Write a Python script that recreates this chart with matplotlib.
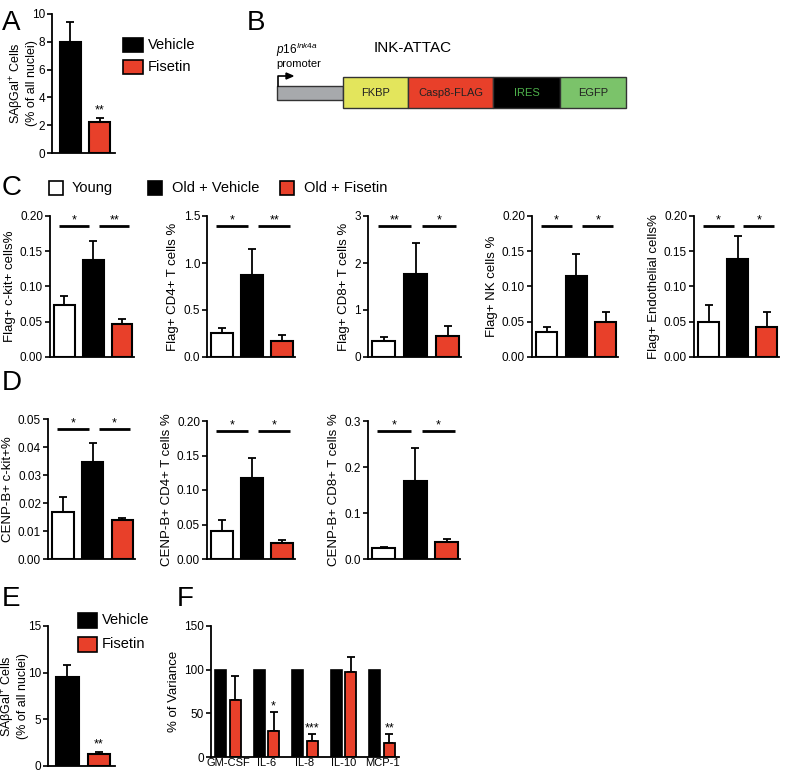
import matplotlib
matplotlib.use('Agg')
import matplotlib.pyplot as plt
from matplotlib.patches import Rectangle, Polygon
import matplotlib.transforms as mtransforms

plt.rcParams['font.family'] = ['Liberation Sans', 'DejaVu Sans']
plt.rcParams['mathtext.fontset'] = 'custom'
plt.rcParams['mathtext.rm'] = 'Liberation Sans'
plt.rcParams['mathtext.it'] = 'Liberation Sans:italic'

W, H = 785, 773
fig = plt.figure(figsize=(W / 100, H / 100), dpi=100)

RED = '#E8402A'

# ---------------- data ----------------
two_groups = ['Vehicle', 'Fisetin']
two_colors = ['black', RED]

a_mean = [8.0, 2.2]
a_top = [9.4, 2.5]
a_sig = ['', '**']

three_groups = ['Young', 'Old + Vehicle', 'Old + Fisetin']
three_colors = ['white', 'black', RED]

c_ylabels = ['Flag+ c-kit+ cells%', 'Flag+ CD4+ T cells %', 'Flag+ CD8+ T cells %',
             'Flag+ NK cells %', 'Flag+ Endothelial cells%']
c_mean = [[0.074, 0.137, 0.047], [0.26, 0.87, 0.17], [0.35, 1.77, 0.45],
          [0.035, 0.115, 0.049], [0.050, 0.139, 0.043]]
c_top = [[0.086, 0.164, 0.054], [0.31, 1.15, 0.23], [0.42, 2.43, 0.67],
         [0.042, 0.146, 0.064], [0.074, 0.172, 0.064]]
c_ticks = [[0.00, 0.05, 0.10, 0.15, 0.20], [0.0, 0.5, 1.0, 1.5], [0, 1, 2, 3],
           [0.00, 0.05, 0.10, 0.15, 0.20], [0.00, 0.05, 0.10, 0.15, 0.20]]
c_fmt = ['%.2f', '%.1f', '%d', '%.2f', '%.2f']
c_sig = [['*', '**'], ['*', '**'], ['**', '*'], ['*', '*'], ['*', '*']]

d_ylabels = ['CENP-B+ c-kit+%', 'CENP-B+ CD4+ T cells %', 'CENP-B+ CD8+ T cells %']
d_mean = [[0.0168, 0.0345, 0.0138], [0.040, 0.118, 0.023], [0.023, 0.170, 0.037]]
d_top = [[0.0220, 0.0413, 0.0148], [0.057, 0.146, 0.027], [0.027, 0.242, 0.044]]
d_ticks = [[0.00, 0.01, 0.02, 0.03, 0.04, 0.05], [0.00, 0.05, 0.10, 0.15, 0.20],
           [0.0, 0.1, 0.2, 0.3]]
d_fmt = ['%.2f', '%.2f', '%.1f']
d_sig = [['*', '*'], ['*', '*'], ['*', '*']]

e_mean = [9.5, 1.3]
e_top = [10.8, 1.5]
e_sig = ['', '**']

f_cats = ['GM-CSF', 'IL-6', 'IL-8', 'IL-10', 'MCP-1']
f_vehicle = [100, 100, 100, 100, 100]
f_fisetin = [65, 30, 18, 97, 16]
f_fisetin_top = [93, 51, 26, 115, 26]
f_sig = ['', '*', '***', '', '**']

construct_parts = ['FKBP', 'Casp8-FLAG', 'IRES', 'EGFP']
construct_colors = ['#E3E55C', '#E8402A', '#000000', '#7BC36A']
construct_text_colors = ['#222222', '#222222', '#4DB04A', '#222222']


# ---------------- helpers ----------------
def px_axes(l, t, r, b):
    return fig.add_axes([l / W, 1 - b / H, (r - l) / W, (b - t) / H])


def style(ax):
    for s in ['top', 'right']:
        ax.spines[s].set_visible(False)
    for s in ['left', 'bottom']:
        ax.spines[s].set_linewidth(1.3)
    ax.tick_params(axis='y', length=3.5, width=1.2, labelsize=8.5, pad=1.5)
    ax.tick_params(axis='x', length=0)
    ax.patch.set_alpha(0)


def bars(ax, xs, mean, top, colors, width):
    ax.bar(xs, mean, width=width, color=colors, edgecolor='black', linewidth=1.5, zorder=2)
    ax.errorbar(xs, mean, yerr=[[0] * len(mean), [t - m for t, m in zip(top, mean)]],
                fmt='none', ecolor='black', elinewidth=1.3, capsize=3.2, capthick=1.3,
                zorder=1)


def sig_lines(ax, sigs):
    tr = mtransforms.blended_transform_factory(ax.transData, ax.transAxes)
    spans = [(-0.2, 0.86), (1.2, 2.26)]
    for (x0, x1), s in zip(spans, sigs):
        ax.plot([x0, x1], [0.93, 0.93], transform=tr, color='black', lw=2.0,
                clip_on=False, solid_capstyle='butt')
        ax.text((x0 + x1) / 2, 0.925, s, transform=tr, ha='center', va='bottom',
                fontsize=9)


def three_panel(rect, ylabel, mean, top, ticks, fmt, sigs):
    ax = px_axes(*rect)
    style(ax)
    xs = list(range(len(mean)))
    bars(ax, xs, mean, top, three_colors, 0.72)
    ax.set_xlim(-0.5, 2.42)
    ax.set_ylim(ticks[0], ticks[-1])
    ax.set_yticks(ticks)
    ax.set_yticklabels([fmt % t for t in ticks])
    ax.set_xticks([])
    ax.set_ylabel(ylabel, fontsize=9.5, labelpad=3)
    sig_lines(ax, sigs)
    return ax


def two_panel(rect, mean, top, sigs, ticks, label_x_px):
    ax = px_axes(*rect)
    style(ax)
    xs = list(range(len(mean)))
    bars(ax, xs, mean, top, two_colors, 0.71)
    ax.set_xlim(-0.62, 1.52)
    ax.set_ylim(ticks[0], ticks[-1])
    ax.set_yticks(ticks)
    ax.set_xticks([])
    ax.set_ylabel('SA\u03b2Gal$^{+}$ Cells\n(% of all nuclei)', fontsize=9,
                  linespacing=1.05)
    l, t, r, b = rect
    ax.yaxis.set_label_coords((label_x_px - l) / (r - l), 0.5)
    for x, tp, s in zip(xs, top, sigs):
        if s:
            ax.annotate(s, (x, tp), xytext=(0, 1), textcoords='offset points',
                        ha='center', va='bottom', fontsize=9)
    return ax


# overlay axes in pixel coordinates for letters, legends and the construct diagram
ov = fig.add_axes([0, 0, 1, 1])
ov.set_xlim(0, W)
ov.set_ylim(H, 0)
ov.axis('off')

for letter, (x, y) in zip('ABCDEF', [(2, 10), (247, 10), (2, 175), (2, 370), (2, 586), (177, 586)]):
    ov.text(x, y, letter, fontsize=20, va='top', ha='left')

# ---------------- A ----------------
two_panel((52, 14, 115, 153), a_mean, a_top, a_sig, [0, 2, 4, 6, 8, 10], 38)
for i, (g, c) in enumerate(zip(two_groups, two_colors)):
    y0 = 38 + i * 22
    ov.add_patch(Rectangle((123, y0), 20, 14, facecolor=c, edgecolor='black', lw=1.2))
    ov.text(148, y0 + 7, g, fontsize=10.5, va='center', ha='left')

# ---------------- B (construct) ----------------
ov.add_patch(Rectangle((277, 86), 66, 14, facecolor='#A7A9AC', edgecolor='#333333', lw=1))
edges = [343, 408, 493, 560, 626]
for i, (name, col, tcol) in enumerate(zip(construct_parts, construct_colors, construct_text_colors)):
    ov.add_patch(Rectangle((edges[i], 77), edges[i + 1] - edges[i], 31, facecolor=col,
                           edgecolor='#333333', lw=1))
    ov.text((edges[i] + edges[i + 1]) / 2, 92.5, name, fontsize=8, ha='center', va='center',
            color=tcol)
ov.plot([278, 278, 286], [86, 76, 76], color='black', lw=1.2)
ov.add_patch(Polygon([[286, 73], [286, 79], [293, 76]], closed=True, color='black'))
ov.text(413, 48, 'INK-ATTAC', fontsize=11, ha='center', va='center')
ov.text(276, 50, '$\\mathit{p16}^{\\mathit{Ink4a}}$', fontsize=8.5, ha='left', va='center')
ov.text(276, 64, 'promoter', fontsize=8, ha='left', va='center')

# ---------------- C ----------------
for g, c, xb, xt in zip(three_groups, three_colors, [49, 148, 280], [72, 172, 304]):
    ov.add_patch(Rectangle((xb, 181), 14, 14, facecolor=c, edgecolor='black', lw=1.2))
    ov.text(xt, 188, g, fontsize=10.5, va='center', ha='left')

c_rects = [(50, 216, 134, 357), (207, 216, 295, 357), (368, 216, 461, 357),
           (532, 216, 618, 357), (694, 216, 779, 357)]
for i, rect in enumerate(c_rects):
    three_panel(rect, c_ylabels[i], c_mean[i], c_top[i], c_ticks[i], c_fmt[i], c_sig[i])

# ---------------- D ----------------
d_rects = [(48, 419, 135, 559), (207, 421, 295, 559), (368, 421, 460, 559)]
for i, rect in enumerate(d_rects):
    three_panel(rect, d_ylabels[i], d_mean[i], d_top[i], d_ticks[i], d_fmt[i], d_sig[i])

# ---------------- E ----------------
two_panel((48, 626, 115, 766), e_mean, e_top, e_sig, [0, 5, 10, 15], 29)
for i, (g, c) in enumerate(zip(two_groups, two_colors)):
    y0 = 613 + i * 24
    ov.add_patch(Rectangle((78, y0), 19, 15, facecolor=c, edgecolor='black', lw=1.2))
    ov.text(102, y0 + 7.5, g, fontsize=10.5, va='center', ha='left')

# ---------------- F ----------------
axf = px_axes(211, 626, 399, 757)
style(axf)
n = len(f_cats)
xv = list(range(n))
xf = [i + 0.375 for i in range(n)]
axf.bar(xv, f_vehicle, width=0.285, color='black', edgecolor='black', linewidth=1.2, zorder=2)
axf.bar(xf, f_fisetin, width=0.285, color=RED, edgecolor='black', linewidth=1.3, zorder=2)
axf.errorbar(xf, f_fisetin, yerr=[[0] * n, [t - m for t, m in zip(f_fisetin_top, f_fisetin)]],
             fmt='none', ecolor='black', elinewidth=1.3, capsize=3, capthick=1.3, zorder=1)
for x, t, s in zip(xf, f_fisetin_top, f_sig):
    if s:
        axf.annotate(s, (x, t), xytext=(0, 0), textcoords='offset points',
                     ha='center', va='bottom', fontsize=9)
axf.set_xlim(-0.25, 4.63)
axf.set_ylim(0, 150)
axf.set_yticks([0, 50, 100, 150])
axf.set_xticks([i + 0.19 for i in range(n)])
axf.set_xticklabels(f_cats, fontsize=8)
axf.tick_params(axis='x', pad=1)
axf.set_ylabel('% of Variance', fontsize=9.5, labelpad=3)

fig.savefig('out.png', dpi=100)
